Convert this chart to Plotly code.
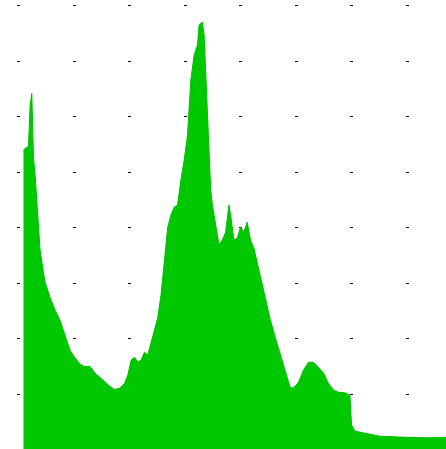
import plotly.graph_objects as go

# Intensity histogram: sampled levels (0-255) and their relative counts
levels = [0, 2, 3, 4, 5, 6, 7, 8, 9, 10, 12, 13, 16, 19, 22, 25, 28, 31, 34, 37,
          40, 43, 46, 49, 52, 55, 58, 61, 63, 65, 67, 69, 71, 73, 75, 77, 79, 81,
          83, 85, 86, 87, 89, 91, 93, 95, 97, 99, 100, 101, 103, 105, 106, 108,
          109, 110, 111, 112, 113, 114, 116, 118, 120, 122, 124, 125, 127, 129,
          131, 133, 135, 137, 139, 141, 143, 146, 149, 152, 155, 158, 161, 163,
          166, 169, 172, 175, 178, 181, 184, 187, 190, 194, 197, 198, 200, 205,
          215, 230, 245, 255]
counts = [5.40, 5.45, 5.45, 6.20, 6.42, 5.27, 4.95, 4.45, 4.05, 3.60, 3.20, 3.02,
          2.75, 2.52, 2.34, 2.07, 1.80, 1.66, 1.55, 1.50, 1.51, 1.39, 1.31, 1.22,
          1.15, 1.09, 1.11, 1.20, 1.35, 1.62, 1.67, 1.58, 1.62, 1.76, 1.71, 1.93,
          2.16, 2.38, 2.79, 3.33, 3.69, 4.00, 4.23, 4.37, 4.41, 4.86, 5.22, 5.67,
          6.12, 6.66, 7.11, 7.29, 7.65, 7.70, 7.47, 6.79, 6.12, 5.22, 4.68, 4.41,
          4.05, 3.69, 3.78, 3.92, 4.41, 4.23, 3.78, 3.81, 4.01, 3.92, 4.10, 3.78,
          3.64, 3.38, 3.10, 2.70, 2.34, 2.02, 1.71, 1.41, 1.12, 1.12, 1.22, 1.44,
          1.58, 1.58, 1.49, 1.39, 1.20, 1.08, 1.04, 1.03, 0.99, 0.45, 0.34, 0.31,
          0.25, 0.23, 0.22, 0.23]

fig = go.Figure(
    go.Scatter(
        x=levels,
        y=counts,
        mode="lines",
        fill="tozeroy",
        fillcolor="rgb(0,200,0)",
        line=dict(color="rgb(0,190,0)", width=1),
        hoverinfo="skip",
    )
)

fig.update_layout(
    width=446,
    height=449,
    margin=dict(l=0, r=0, t=0, b=0),
    paper_bgcolor="white",
    plot_bgcolor="white",
    showlegend=False,
    xaxis=dict(
        range=[-14.18, 255],
        showgrid=False,
        zeroline=False,
        showticklabels=False,
        ticks="",
        showline=False,
    ),
    yaxis=dict(
        range=[0.019, 8.099],
        tick0=0,
        dtick=1,
        showgrid=True,
        gridcolor="black",
        gridwidth=1,
        griddash="0px,17px,3px,35.57px",
        zeroline=False,
        showticklabels=False,
        ticks="",
        showline=False,
    ),
)

fig.write_html("out.html")
